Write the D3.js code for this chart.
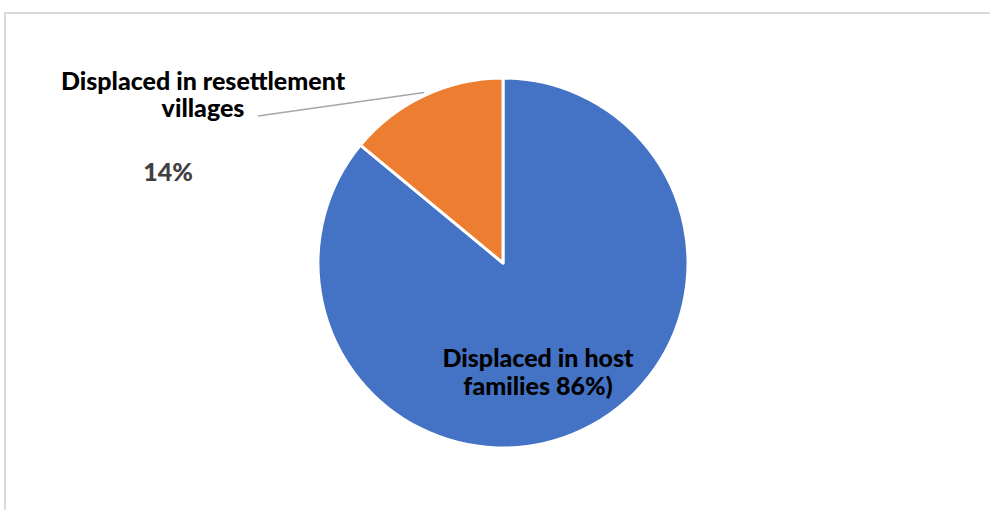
<!DOCTYPE html>
<html>
<head>
<meta charset="utf-8">
<script src="https://cdn.jsdelivr.net/npm/d3@7"></script>
<style>
  body { margin: 0; background: #fff; }
  svg text { font-family: Lato, "Open Sans", sans-serif; font-weight: 900; }
</style>
</head>
<body>
<svg id="chart" width="990" height="510"></svg>
<script>
// slice data
const categories = ["Displaced in host families", "Displaced in resettlement villages"];
const shares = [86, 14];
const colors = ["#4472C4", "#ED7D31"];

const svg = d3.select("#chart");

// light frame (top and left only visible)
svg.append("path")
    .attr("d", "M5,510 V13 H990")
    .attr("fill", "none")
    .attr("stroke", "#d9d9d9")
    .attr("stroke-width", 2);

const cx = 503, cy = 263, r = 185;

const pie = d3.pie().sort(null).value(d => d.value);
const arc = d3.arc().innerRadius(0).outerRadius(r);

const data = categories.map((c, i) => ({name: c, value: shares[i], color: colors[i]}));

const g = svg.append("g").attr("transform", `translate(${cx},${cy})`);

g.selectAll("path")
    .data(pie(data))
    .join("path")
        .attr("d", arc)
        .attr("fill", d => d.data.color)
        .attr("stroke", "#fff")
        .attr("stroke-width", 3)
        .attr("stroke-linejoin", "round");

// leader line for the small slice
const slices = pie(data);
const small = slices[1];
const mid = (small.startAngle + small.endAngle) / 2;
const pEdge = [Math.sin(mid) * r, -Math.cos(mid) * r];
svg.append("polyline")
    .attr("points", `258,116 ${cx + pEdge[0]},${cy + pEdge[1] - 3}`)
    .attr("fill", "none")
    .attr("stroke", "#a6a6a6")
    .attr("stroke-width", 1.5);

// labels
const fs = 25;
svg.append("text")
    .attr("x", 203).attr("y", 90)
    .attr("text-anchor", "middle")
    .attr("font-size", fs)
    .attr("fill", "#000")
    .text("Displaced in resettlement");
svg.append("text")
    .attr("x", 203).attr("y", 117)
    .attr("text-anchor", "middle")
    .attr("font-size", fs)
    .attr("fill", "#000")
    .text("villages");
svg.append("text")
    .attr("x", 168).attr("y", 181)
    .attr("text-anchor", "middle")
    .attr("font-size", fs)
    .attr("fill", "#404040")
    .text(shares[1] + "%");

svg.append("text")
    .attr("x", 538).attr("y", 367)
    .attr("text-anchor", "middle")
    .attr("font-size", fs)
    .attr("fill", "#000")
    .text("Displaced in host");
svg.append("text")
    .attr("x", 538).attr("y", 395)
    .attr("text-anchor", "middle")
    .attr("font-size", fs)
    .attr("fill", "#000")
    .text("families " + shares[0] + "%)");
</script>
</body>
</html>
